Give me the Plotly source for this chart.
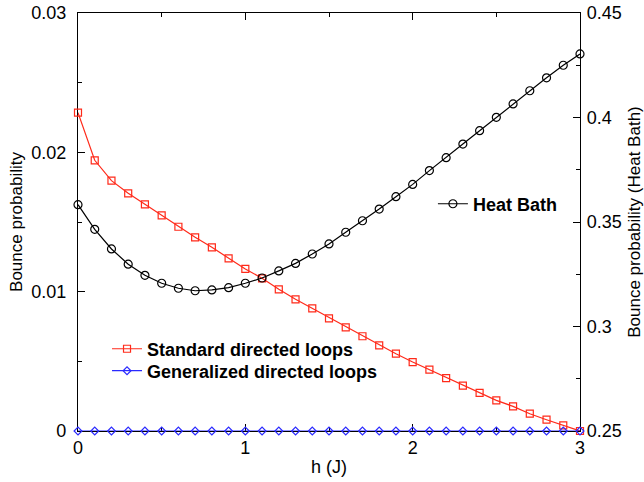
import plotly.graph_objects as go

h = [round(0.1 * i, 1) for i in range(31)]

standard = [0.02285, 0.01943, 0.01797, 0.01706, 0.01627, 0.01548, 0.01466, 0.01390,
            0.01318, 0.01239, 0.01163, 0.01096, 0.01017, 0.00945, 0.00880, 0.00809,
            0.00744, 0.00680, 0.00615, 0.00555, 0.00495, 0.00440, 0.00380, 0.00325,
            0.00273, 0.00220, 0.00177, 0.00124, 0.00081, 0.00041, 0.0]

generalized = [0.0] * 31

heat_bath = [0.3583, 0.3465, 0.3371, 0.3298, 0.3245, 0.3207, 0.3183, 0.3171,
             0.3175, 0.3186, 0.3207, 0.3232, 0.3266, 0.3302, 0.3347, 0.3395,
             0.3451, 0.3506, 0.3562, 0.3621, 0.3680, 0.3746, 0.3808, 0.3873,
             0.3937, 0.4001, 0.4065, 0.4128, 0.4190, 0.4250, 0.4304]

left_ticks = [0, 0.01, 0.02, 0.03]
left_labels = ["0", "0.01", "0.02", "0.03"]
right_ticks = [0.25, 0.3, 0.35, 0.4, 0.45]
right_labels = ["0.25", "0.3", "0.35", "0.4", "0.45"]
x_ticks = [0, 1, 2, 3]
x_labels = ["0", "1", "2", "3"]

FONT = "Liberation Sans, Arial, sans-serif"

fig = go.Figure()
fig.add_trace(go.Scatter(
    x=h, y=standard, name="Standard directed loops", mode="lines+markers",
    line=dict(color="#ff2a1a", width=1.2),
    marker=dict(symbol="square-open", size=7, color="#ff2a1a", line=dict(width=1.2)),
    cliponaxis=False, legend="legend"))
fig.add_trace(go.Scatter(
    x=h, y=generalized, name="Generalized directed loops", mode="lines+markers",
    line=dict(color="#2a2aff", width=1.2),
    marker=dict(symbol="diamond-open", size=6, color="#2a2aff", line=dict(width=1.2)),
    cliponaxis=False, legend="legend3"))
fig.add_trace(go.Scatter(
    x=h, y=heat_bath, name="Heat Bath", mode="lines+markers", yaxis="y2",
    line=dict(color="black", width=1.2),
    marker=dict(symbol="circle-open", size=8, color="black", line=dict(width=1.2)),
    cliponaxis=False, legend="legend2"))

axis_common = dict(
    showgrid=False, zeroline=False, showline=True, linecolor="black", linewidth=1.2,
    ticks="inside", ticklen=7, tickcolor="black", tickwidth=1, automargin=False,
    tickfont=dict(family=FONT, size=18, color="black"),
)

legend_common = dict(xanchor="left", yanchor="middle", bgcolor="rgba(0,0,0,0)",
                     font=dict(family=FONT, size=18, weight="bold"))

fig.update_layout(
    width=644, height=482,
    margin=dict(l=78, r=64, t=13, b=51),
    paper_bgcolor="white", plot_bgcolor="white",
    font=dict(family=FONT, color="black"),
    xaxis=dict(**axis_common, range=[0, 3], tickvals=x_ticks, ticktext=x_labels,
               mirror="ticks", layer="below traces",
               minor=dict(ticks="inside", ticklen=4, dtick=0.5, tickcolor="black"),
               title=dict(text="h (J)", font=dict(family=FONT, size=18), standoff=3)),
    yaxis=dict(**axis_common, range=[0, 0.03], tickvals=left_ticks, ticktext=left_labels,
               layer="below traces", ticklabelstandoff=7,
               minor=dict(ticks="inside", ticklen=4, dtick=0.005, tickcolor="black"),
               title=dict(text="Bounce probability", font=dict(family=FONT, size=17), standoff=4)),
    yaxis2=dict(**axis_common, range=[0.25, 0.45], tickvals=right_ticks, ticktext=right_labels,
                overlaying="y", side="right", layer="below traces", ticklabelstandoff=2,
                minor=dict(ticks="inside", ticklen=4, dtick=0.025, tickcolor="black"),
                title=dict(text="Bounce probability (Heat Bath)", font=dict(family=FONT, size=17), standoff=10)),
    legend=dict(x=0.0578, y=0.196, **legend_common),
    legend3=dict(x=0.0578, y=0.1435, **legend_common),
    legend2=dict(x=0.707, y=0.543, **legend_common),
    showlegend=True,
)

fig.write_html("out.html")
